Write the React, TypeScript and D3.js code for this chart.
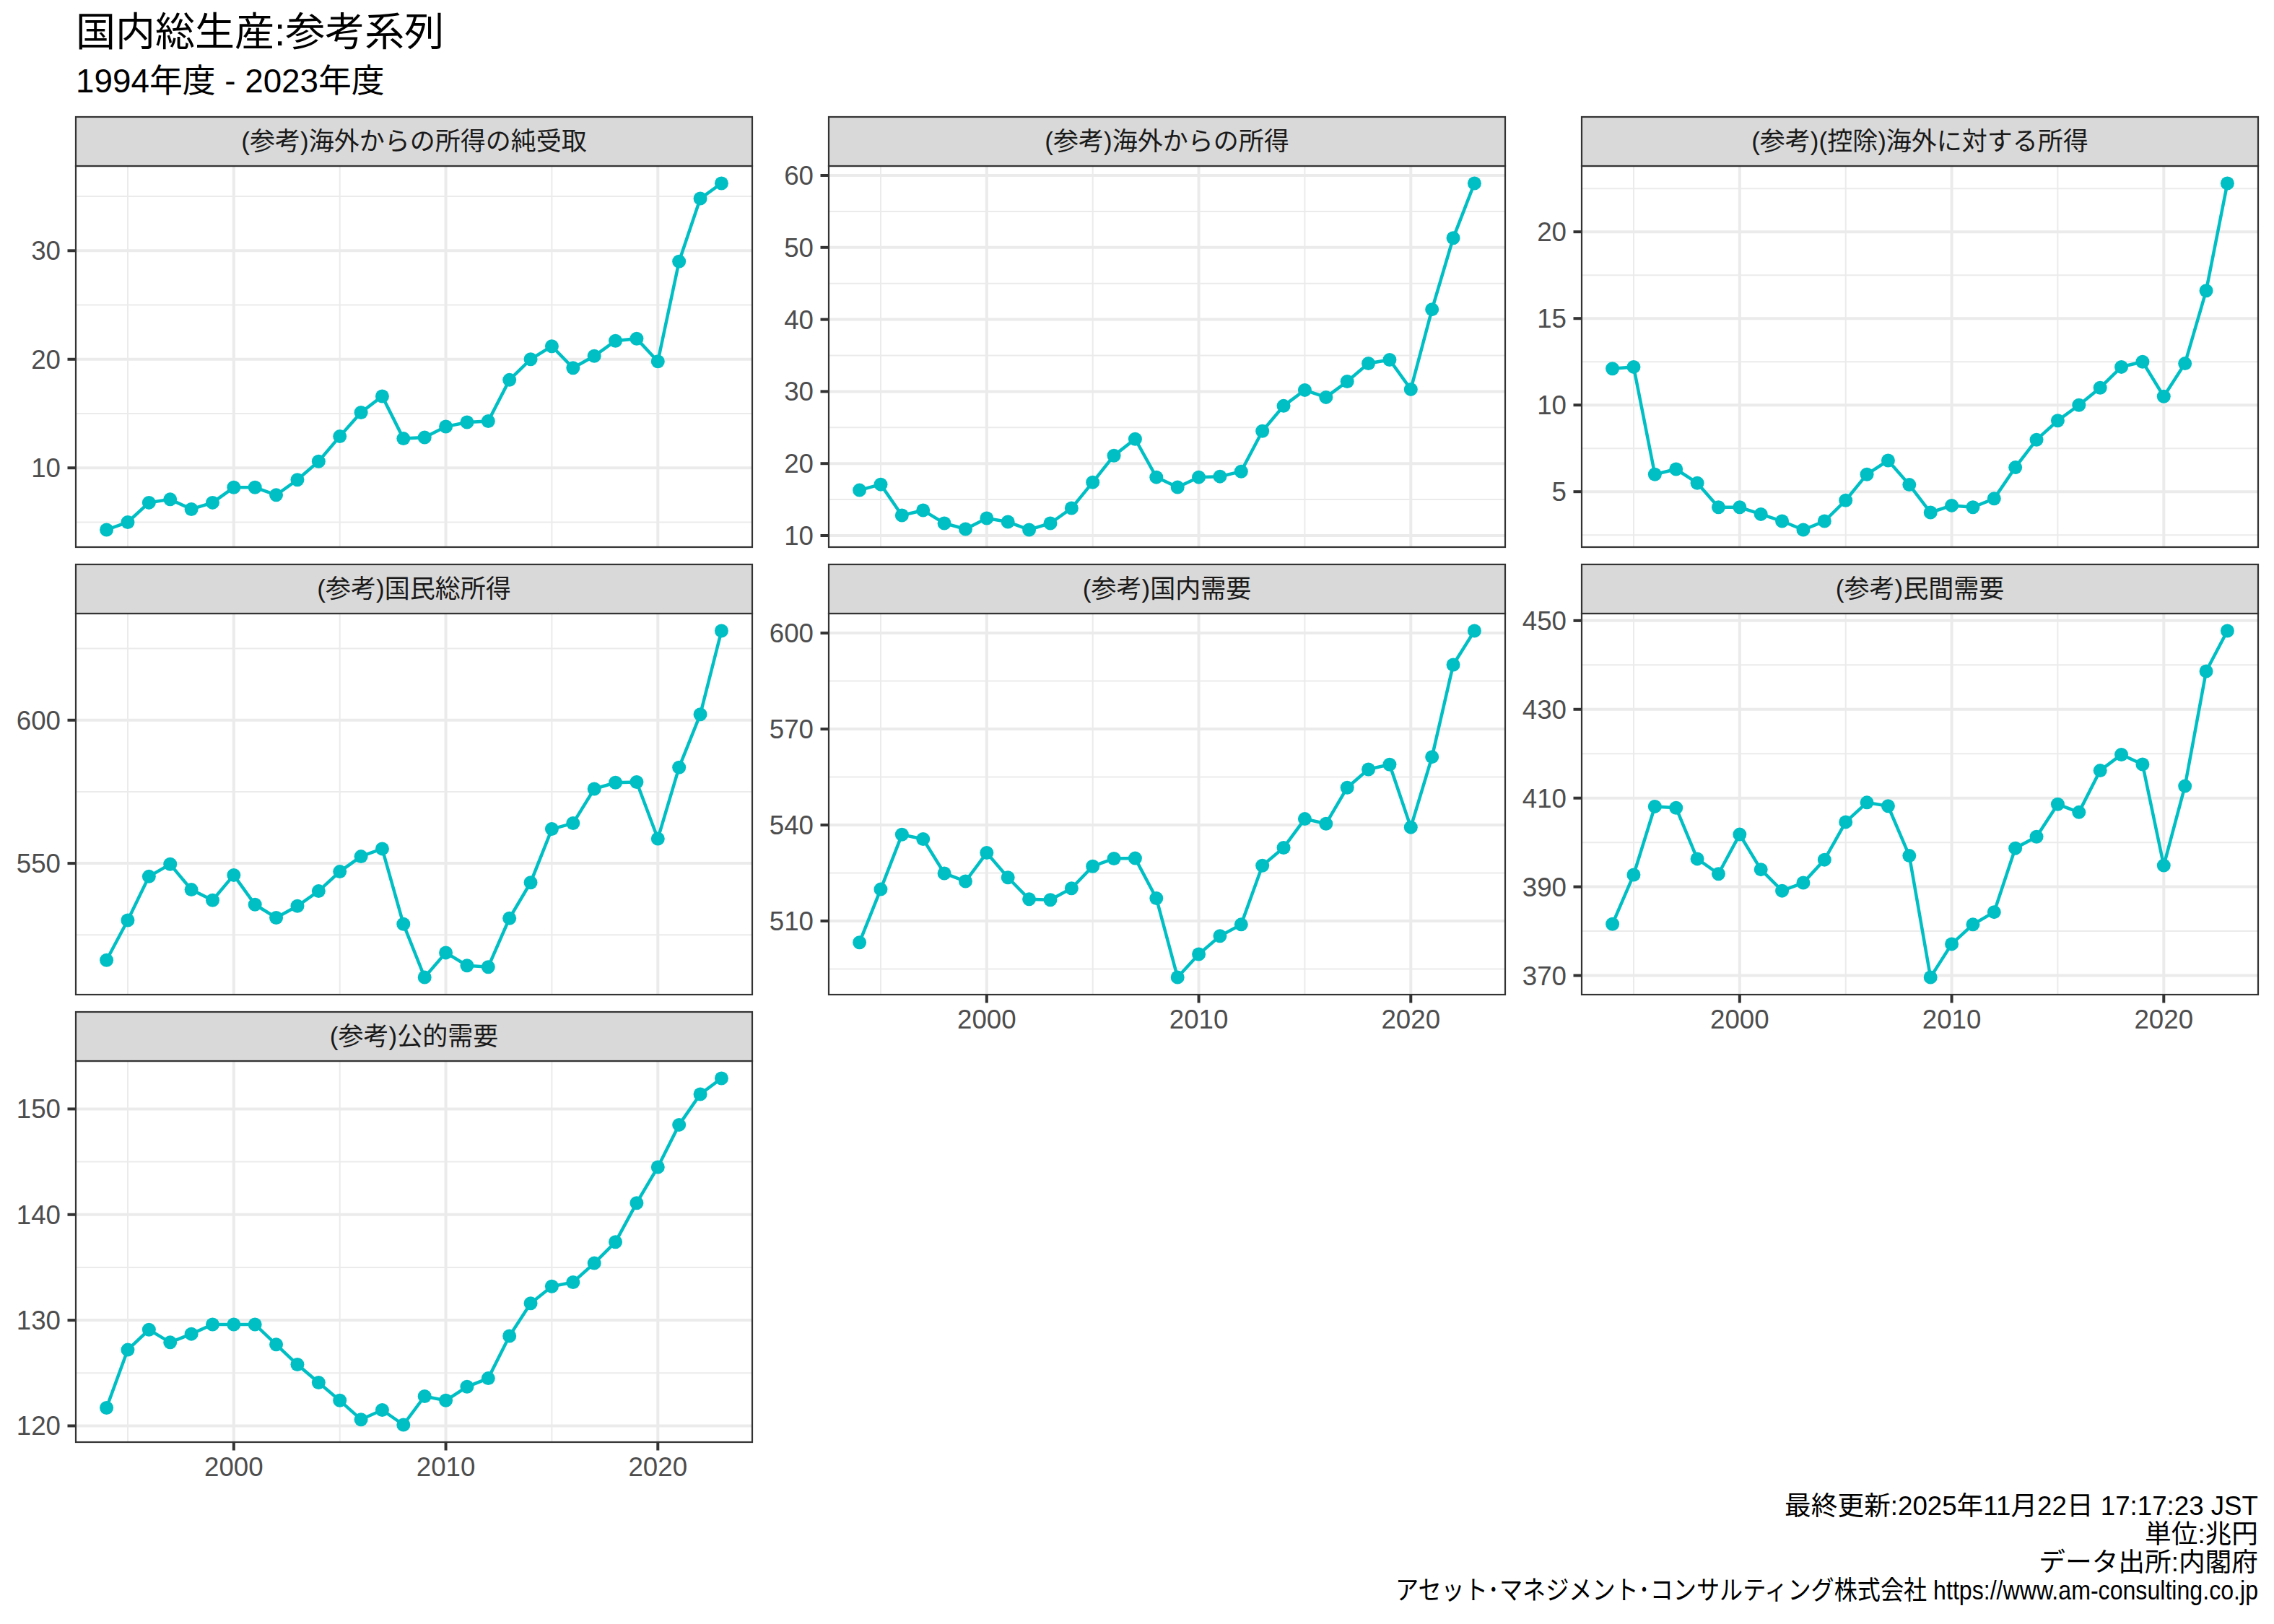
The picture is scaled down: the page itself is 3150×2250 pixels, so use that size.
import * as d3 from 'd3'

const W = 3150
const H = 2250

const YEARS = [1994, 1995, 1996, 1997, 1998, 1999, 2000, 2001, 2002, 2003, 2004, 2005, 2006, 2007, 2008,
  2009, 2010, 2011, 2012, 2013, 2014, 2015, 2016, 2017, 2018, 2019, 2020, 2021, 2022, 2023]

const NET_INCOME = [4.3, 5.0, 6.8, 7.1, 6.2, 6.8, 8.2, 8.2, 7.5, 8.9, 10.6, 12.9, 15.1, 16.6, 12.7,
  12.8, 13.8, 14.2, 14.3, 18.1, 20.0, 21.2, 19.2, 20.3, 21.7, 21.9, 19.8, 29.0, 34.8, 36.2]
const INCOME_FROM = [16.3, 17.1, 12.8, 13.5, 11.7, 10.9, 12.4, 11.9, 10.8, 11.7, 13.8, 17.4, 21.1, 23.4, 18.1,
  16.7, 18.1, 18.2, 18.9, 24.5, 28.0, 30.2, 29.2, 31.4, 33.9, 34.4, 30.3, 41.4, 51.3, 58.9]
const INCOME_TO = [12.1, 12.2, 6.0, 6.3, 5.5, 4.1, 4.1, 3.7, 3.3, 2.8, 3.3, 4.5, 6.0, 6.8, 5.4,
  3.8, 4.2, 4.1, 4.6, 6.4, 8.0, 9.1, 10.0, 11.0, 12.2, 12.5, 10.5, 12.4, 16.6, 22.8]
const GNI = [516.2, 530.1, 545.4, 549.7, 540.8, 537.1, 545.9, 535.6, 531.0, 535.1, 540.3, 547.1, 552.4, 555.1, 528.8,
  510.2, 518.8, 514.3, 513.8, 530.8, 543.3, 562.0, 564.0, 576.0, 578.2, 578.4, 558.6, 583.5, 602.0, 631.2]
const DOMESTIC = [503.3, 519.9, 537.0, 535.6, 524.9, 522.4, 531.3, 523.6, 516.8, 516.6, 520.2, 527.1, 529.5, 529.6, 517.1,
  492.4, 499.6, 505.3, 508.9, 527.3, 532.9, 541.9, 540.4, 551.7, 557.4, 558.9, 539.3, 561.3, 590.1, 600.7]
const PRIVATE = [381.6, 392.7, 408.1, 407.8, 396.3, 392.9, 401.8, 393.9, 389.1, 390.9, 396.1, 404.6, 409.0, 408.2, 397.0,
  369.6, 377.1, 381.5, 384.3, 398.7, 401.3, 408.6, 406.8, 416.2, 419.8, 417.6, 394.8, 412.7, 438.6, 447.7]
const PUBLIC = [121.7, 127.2, 129.1, 127.9, 128.7, 129.6, 129.6, 129.6, 127.7, 125.8, 124.1, 122.4, 120.6, 121.5, 120.1,
  122.8, 122.4, 123.7, 124.5, 128.5, 131.6, 133.2, 133.6, 135.4, 137.4, 141.1, 144.5, 148.5, 151.4, 152.9]

const LABELS = [
  '(参考)海外からの所得の純受取',
  '(参考)海外からの所得',
  '(参考)(控除)海外に対する所得',
  '(参考)国民総所得',
  '(参考)国内需要',
  '(参考)民間需要',
  '(参考)公的需要',
]
const SERIES = [NET_INCOME, INCOME_FROM, INCOME_TO, GNI, DOMESTIC, PRIVATE, PUBLIC]
const Y_TICKS = [
  [10, 20, 30],
  [10, 20, 30, 40, 50, 60],
  [5, 10, 15, 20],
  [550, 600],
  [510, 540, 570, 600],
  [370, 390, 410, 430, 450],
  [120, 130, 140, 150],
]
const X_TICKS = [2000, 2010, 2020]

const TITLE = '国内総生産:参考系列'
const SUBTITLE = '1994年度 - 2023年度'
const CAPTION = [
  '最終更新:2025年11月22日 17:17:23 JST',
  '単位:兆円',
  'データ出所:内閣府',
  'アセット･マネジメント･コンサルティング株式会社 https://www.am-consulting.co.jp',
]

const FONT = "'Liberation Sans', 'Noto Sans CJK JP', sans-serif"
const TEAL = '#00BFC4'
const GRID = '#EBEBEB'
const DARK = '#333333'

const COL_X = [105, 1148, 2191]
const ROW_Y = [162, 782, 1402]
const PW = 937
const STRIP_H = 68
const PH = 528
const TICK_FS = 36.7

// ggplot-style 5% expansion
function expand([a, b]: number[]) {
  const d = (b - a) * 0.05
  return [a - d, b + d]
}

// minor breaks halfway between majors, one step beyond at each end
function minors(ticks: number[], domain: number[]) {
  const step = ticks[1] - ticks[0]
  const out: number[] = []
  for (let v = ticks[0] - step / 2; v <= ticks[ticks.length - 1] + step / 2 + 1e-9; v += step) {
    if (v >= domain[0] && v <= domain[1]) out.push(v)
  }
  return out
}

function Panel({ idx }: { idx: number }) {
  const col = idx % 3
  const row = Math.floor(idx / 3)
  const x0 = COL_X[col]
  const sy = ROW_Y[row]
  const py = sy + STRIP_H
  const values = SERIES[idx]
  const bottomAxis = idx === 4 || idx === 5 || idx === 6

  const xDom = expand(d3.extent(YEARS) as number[])
  const yDom = expand(d3.extent(values) as number[])
  const x = d3.scaleLinear().domain(xDom).range([x0, x0 + PW])
  const y = d3.scaleLinear().domain(yDom).range([py + PH, py])

  const xMinor = [1995, 2005, 2015].filter((v) => v > xDom[0] && v < xDom[1])
  const yMinor = minors(Y_TICKS[idx], yDom)
  const pts = YEARS.map((yr, i) => [x(yr), y(values[i])] as [number, number])
  const line = d3.line<[number, number]>().x((d) => d[0]).y((d) => d[1])

  return (
    <g>
      <rect x={x0} y={py} width={PW} height={PH} fill="#ffffff" />
      {yMinor.map((v) => (
        <line key={'ym' + v} x1={x0} x2={x0 + PW} y1={y(v)} y2={y(v)} stroke={GRID} strokeWidth={2} />
      ))}
      {xMinor.map((v) => (
        <line key={'xm' + v} x1={x(v)} x2={x(v)} y1={py} y2={py + PH} stroke={GRID} strokeWidth={2} />
      ))}
      {Y_TICKS[idx].map((v) => (
        <line key={'yM' + v} x1={x0} x2={x0 + PW} y1={y(v)} y2={y(v)} stroke={GRID} strokeWidth={4} />
      ))}
      {X_TICKS.map((v) => (
        <line key={'xM' + v} x1={x(v)} x2={x(v)} y1={py} y2={py + PH} stroke={GRID} strokeWidth={4} />
      ))}
      <path d={line(pts) || ''} fill="none" stroke={TEAL} strokeWidth={4.5} />
      {pts.map((p, i) => (
        <circle key={'p' + i} cx={p[0]} cy={p[1]} r={9.5} fill={TEAL} />
      ))}
      <rect x={x0} y={py} width={PW} height={PH} fill="none" stroke={DARK} strokeWidth={2.2} />

      {/* strip */}
      <rect x={x0} y={sy} width={PW} height={STRIP_H} fill="#D9D9D9" stroke={DARK} strokeWidth={2.2} />
      <text x={x0 + PW / 2} y={sy + STRIP_H / 2 + 12} textAnchor="middle" fontSize={35} fill="#1A1A1A">
        {LABELS[idx]}
      </text>

      {/* y axis */}
      {Y_TICKS[idx].map((v) => (
        <g key={'yt' + v}>
          <line x1={x0 - 11.5} x2={x0} y1={y(v)} y2={y(v)} stroke={DARK} strokeWidth={4} />
          <text x={x0 - 21} y={y(v) + 13} textAnchor="end" fontSize={TICK_FS} fill="#4D4D4D">{v}</text>
        </g>
      ))}

      {/* x axis */}
      {bottomAxis && X_TICKS.map((v) => (
        <g key={'xt' + v}>
          <line x1={x(v)} x2={x(v)} y1={py + PH} y2={py + PH + 11.5} stroke={DARK} strokeWidth={4} />
          <text x={x(v)} y={py + PH + 47} textAnchor="middle" fontSize={TICK_FS} fill="#4D4D4D">{v}</text>
        </g>
      ))}
    </g>
  )
}

export default function App() {
  return (
    <div style={{ position: 'absolute', left: 0, top: 0 }}>
      <svg width={W} height={H} viewBox={`0 0 ${W} ${H}`} fontFamily={FONT} style={{ display: 'block', background: '#fff' }}>
        <rect width={W} height={H} fill="#ffffff" />
        <text x={105} y={63} fontSize={55} fill="#000">{TITLE}</text>
        <text x={105} y={128} fontSize={45.8} fill="#000">{SUBTITLE}</text>
        {LABELS.map((_, i) => <Panel key={i} idx={i} />)}
        {CAPTION.map((c, i) => (
          <text key={i} x={3128} y={2099 + i * 39} textAnchor="end" fontSize={36.7} fill="#000"
            {...(i === CAPTION.length - 1 ? { textLength: 1195, lengthAdjust: 'spacingAndGlyphs' } : {})}>
            {c}
          </text>
        ))}
      </svg>
    </div>
  )
}
